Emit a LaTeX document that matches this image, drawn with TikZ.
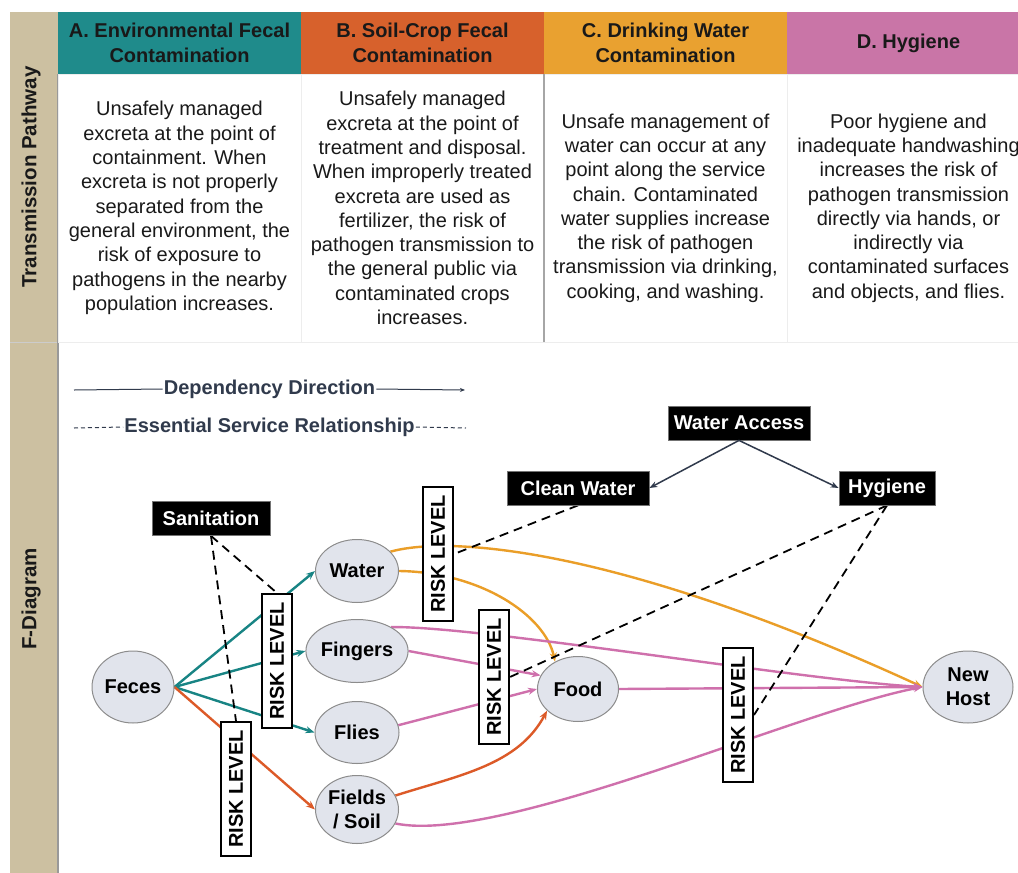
\documentclass[tikz,border=0pt]{standalone}
\usepackage{fontspec}
\setmainfont{Liberation Sans}
\usetikzlibrary{positioning, shapes.geometric, backgrounds, arrows.meta}
\definecolor{TealHead}{RGB}{31, 139, 139}
\definecolor{RustHead}{RGB}{215, 97, 44}
\definecolor{AmberHead}{RGB}{233, 161, 48}
\definecolor{OrchidHead}{RGB}{201, 117, 167}
\definecolor{SandBar}{RGB}{204, 192, 161}
\definecolor{NodeFill}{RGB}{225, 228, 236}
\definecolor{SlateInk}{RGB}{48, 58, 76}
\definecolor{InkDark}{RGB}{25, 25, 25}
\definecolor{TealEdge}{RGB}{24, 132, 132}
\definecolor{RustEdge}{RGB}{220, 90, 40}
\definecolor{AmberEdge}{RGB}{234, 158, 40}
\definecolor{OrchidEdge}{RGB}{207, 112, 172}

\begin{document}
\begin{tikzpicture}[
        x=1pt, y=-1pt,
        header/.style={rectangle, minimum width=243pt, minimum height=62pt, inner sep=0pt, outer sep=0pt, align=center, font=\fontsize{20}{24.5}\selectfont\bfseries, text=InkDark},
        cell/.style={rectangle, draw=black!7, minimum width=243pt, minimum height=268pt, inner sep=0pt, outer sep=0pt, align=center, font=\fontsize{20}{24.3}\selectfont, text=InkDark},
        sidelabel/.style={rotate=90, font=\fontsize{20.5}{24}\selectfont\bfseries, text=InkDark},
        legend/.style={inner sep=1pt, font=\fontsize{20}{24}\selectfont\bfseries, text=SlateInk},
        site/.style={ellipse, draw=black!45, line width=1pt, fill=NodeFill, inner sep=0pt, align=center, font=\fontsize{20}{24.3}\selectfont\bfseries},
        service/.style={rectangle, fill=black, draw=black!55, line width=0.8pt, text=white, inner xsep=5pt, inner ysep=0pt, minimum height=34pt, font=\fontsize{20}{24}\selectfont\bfseries},
        risk/.style={rectangle, draw=black, line width=2pt, fill=white, rotate=90, minimum width=134pt, minimum height=30pt, inner sep=0pt, font=\fontsize{20}{24}\selectfont\bfseries},
        flow/.style={line width=2.4pt, -{Stealth[length=9pt, width=7pt]}},
        relation/.style={black, line width=1.8pt, dash pattern=on 9pt off 6pt},
        dep/.style={SlateInk, line width=1.5pt, -{Stealth[length=8pt, width=6pt]}}
      ]
        \useasboundingbox (0,0) rectangle (1018,873);
        \begin{scope}[on background layer]
          \fill[white] (0,0) rectangle (1018,873);
        \end{scope}

        % Side bar
        \fill[SandBar] (10,12) rectangle (58,873);
        \draw[black!20, line width=1pt] (10,342) -- (58,342);
        \draw[black!40, line width=1.2pt] (58,74) -- (58,873);
        \node [sidelabel] (sideTop) at (31,177) {Transmission Pathway};
        \node [sidelabel] (sideBottom) at (31,599) {F-Diagram};

        % Pathway table
        \node [header, fill=TealHead] (hdA) at (179.5,43) {A. Environmental Fecal\\Contamination};
        \node [header, fill=RustHead, right=0pt of hdA] (hdB) {B. Soil-Crop Fecal\\Contamination};
        \node [header, fill=AmberHead, right=0pt of hdB] (hdC) {C. Drinking Water\\Contamination};
        \node [header, fill=OrchidHead, right=0pt of hdC] (hdD) {D. Hygiene};

        \node [cell, below=0pt of hdA] (txA) {Unsafely managed\\excreta at the point of\\containment. When\\excreta is not properly\\separated from the\\general environment, the\\risk of exposure to\\pathogens in the nearby\\population increases.};
        \node [cell, below=0pt of hdB] (txB) {Unsafely managed\\excreta at the point of\\treatment and disposal.\\When improperly treated\\excreta are used as\\fertilizer, the risk of\\pathogen transmission to\\the general public via\\contaminated crops\\increases.};
        \node [cell, below=0pt of hdC] (txC) {Unsafe management of\\water can occur at any\\point along the service\\chain. Contaminated\\water supplies increase\\the risk of pathogen\\transmission via drinking,\\cooking, and washing.};
        \node [cell, below=0pt of hdD] (txD) {Poor hygiene and\\inadequate handwashing\\increases the risk of\\pathogen transmission\\directly via hands, or\\indirectly via\\contaminated surfaces\\and objects, and flies.};
        \draw[black!35, line width=1.2pt] (txB.north east) -- (txB.south east);

        % Legend
        \node [legend] (depText) at (269.5,389) {Dependency Direction};
        \node [legend] (essText) at (269.5,427) {Essential Service Relationship};
        \coordinate (depL) at (74,390);
        \coordinate (depR) at (465,390);
        \coordinate (essL) at (74,428);
        \coordinate (essR) at (466,428);
        \draw[SlateInk, line width=1pt] (depL) -- (depText.west);
        \draw[SlateInk, line width=1pt, -{Stealth[length=5pt, width=4pt]}] (depText.east) -- (depR);
        \draw[SlateInk, line width=1pt, dash pattern=on 4pt off 3pt] (essL) -- (essText.west);
        \draw[SlateInk, line width=1pt, dash pattern=on 4pt off 3pt] (essText.east) -- (essR);

        % Services
        \node [service, minimum width=118pt] (sanitation) at (211,518.5) {Sanitation};
        \node [service, minimum width=142pt] (wateraccess) at (739,423) {Water Access};
        \node [service, minimum width=142pt] (cleanwater) at (578,488) {Clean Water};
        \node [service, minimum width=96pt] (hygiene) at (887,488) {Hygiene};

        % F-diagram nodes
        \node [site, minimum width=82pt, minimum height=72pt] (feces) at (133,687) {Feces};
        \node [site, minimum width=83pt, minimum height=63pt] (water) at (357,571) {Water};
        \node [site, minimum width=83pt, minimum height=63pt, below=16pt of water] (fingers) {Fingers};
        \node [site, minimum width=84pt, minimum height=62pt, below=18pt of fingers] (flies) {Flies};
        \node [site, minimum width=83pt, minimum height=68pt, below=11pt of flies] (fields) {Fields\\/ Soil};
        \node [site, minimum width=81pt, minimum height=65pt] (food) at (578,689) {Food};
        \node [site, minimum width=90pt, minimum height=72pt] (host) at (968,687) {New\\Host};

        % Risk levels
        \node [risk] (riskTeal) at (277,661) {RISK LEVEL};
        \node [risk] (riskSoil) at (236,789) {RISK LEVEL};
        \node [risk] (riskWater) at (438,554) {RISK LEVEL};
        \node [risk] (riskFood) at (494,677) {RISK LEVEL};
        \node [risk] (riskHost) at (738,715) {RISK LEVEL};

        % Water access feeds
        \draw [dep] (wateraccess.south) -- (cleanwater.east);
        \draw [dep] (wateraccess.south) -- (hygiene.west);

        % Connections (behind the risk boxes)
        \begin{scope}[on background layer]
          \draw [flow, TealEdge] (feces.east) -- (water.west);
          \draw [flow, TealEdge] (feces.east) -- (fingers.west);
          \draw [flow, TealEdge] (feces.east) -- (flies.west);
          \draw [flow, RustEdge] (feces.east) -- (fields.west);

          \draw [flow, AmberEdge] (water.30) .. controls (450,535) and (620,548) .. (host.west);
          \draw [flow, AmberEdge] (water.east) .. controls (480,572) and (545,615) .. (food.130);

          \draw [flow, OrchidEdge] (fingers.35) .. controls (480,626) and (800,680) .. (host.west);
          \draw [flow, OrchidEdge] (fingers.east) -- (food.160);
          \draw [flow, OrchidEdge] (flies.10) -- (food.west);
          \draw [flow, RustEdge] (fields.20) .. controls (460,775) and (518,765) .. (food.215);
          \draw [flow, OrchidEdge] (fields.-20) .. controls (500,845) and (800,710) .. (host.west);
          \draw [flow, OrchidEdge] (food.east) -- (host.west);

          % Essential service links
          \draw [relation] (sanitation.south) -- (riskTeal.east);
          \draw [relation] (sanitation.south) -- (riskSoil.east);
          \draw [relation] (cleanwater.south) -- (riskWater.south);
          \draw [relation] (hygiene.south) -- (riskFood.south);
          \draw [relation] (hygiene.south) -- (riskHost.south);
        \end{scope}
      \end{tikzpicture}
\end{document}
